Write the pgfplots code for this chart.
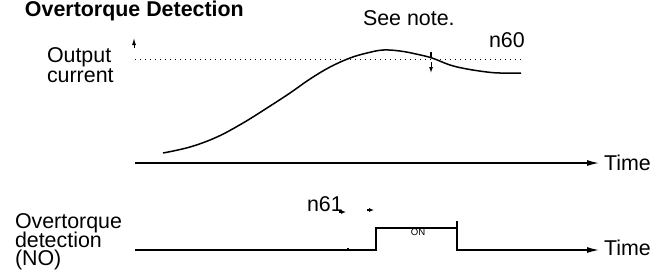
\documentclass[border=0pt]{standalone}
\usepackage{pgfplots}
\pgfplotsset{compat=1.18}
\usepackage{fontspec}
\setmainfont{Liberation Sans}
\usetikzlibrary{arrows.meta}
\newcommand\tightls{\lineskiplimit=-100pt\relax\lineskip=0pt\relax}
\tikzset{lbl/.style={font=\fontsize{10.7}{10}\selectfont, inner sep=0pt, outer sep=0pt}}
\begin{document}
\begin{tikzpicture}
\begin{axis}[
  scale only axis, width=331pt, height=137.5pt,
  xmin=0, xmax=662, ymin=0, ymax=275, y dir=reverse,
  hide axis, clip=false,
]
% bounding frame (invisible)
\addplot[draw=none] coordinates {(0,0) (662,275)};
% output current curve
\addplot[black, line width=0.75pt, smooth, tension=0.6] coordinates {
 (163,153) (190,147) (217,137) (243,123) (267,108) (290,93) (310,79)
 (330,67) (350,58) (367,53) (383,50) (400,51) (416,54) (432,58)
 (450,65) (467,69) (487,72) (500,73) (521,73)
};
% n60 level (dotted)
\addplot[black, dotted, line width=0.5pt] coordinates {(135,59) (521,59)};
% top time axis
\addplot[black, line width=0.7pt, -{Latex[length=6pt,width=3pt]}] coordinates {(135,163) (599,163)};
% small up arrow near axis
\addplot[black, line width=0.5pt, -{Latex[length=3.5pt,width=2pt]}] coordinates {(134,48) (134,38)};
% markers at crossing
\addplot[black, line width=0.6pt] coordinates {(431,52) (431,57)};
\addplot[black, line width=0.5pt, -{Latex[length=3pt,width=2pt]}] coordinates {(431,62) (431,73)};
% overtorque detection signal
\addplot[black, line width=0.7pt, -{Latex[length=6pt,width=3pt]}] coordinates {
 (135,250) (376,250) (376,228) (457,228) (457,250) (599,250)};
\addplot[black, line width=0.8pt] coordinates {(457,221) (457,228)};
\addplot[black, line width=0.6pt] coordinates {(348,248) (348,250)};
% small arrows near n61
\addplot[black, line width=0.6pt, -{Latex[length=2.5pt,width=2pt]}] coordinates {(339,212) (346,212)};
\addplot[black, line width=0.6pt, -{Latex[length=2.5pt,width=2pt]}] coordinates {(367,210) (374,210)};
% texts
\node[lbl, anchor=base west, font=\fontsize{10.7}{10}\selectfont\bfseries] at (axis cs:25,16) {Overtorque Detection};
\node[lbl, anchor=base west] at (axis cs:363,25) {See note.};
\node[lbl, anchor=base west] at (axis cs:489,47) {n60};
\node[lbl, anchor=west, align=left, font=\fontsize{10.7}{10}\selectfont\tightls] at (axis cs:47,65) {Output\\current};
\node[lbl, anchor=west] at (axis cs:604,163) {Time};
\node[lbl, anchor=west] at (axis cs:604,248) {Time};
\node[lbl, anchor=base west] at (axis cs:307,211) {n61};
\node[lbl, font=\fontsize{4.8}{5}\selectfont] at (axis cs:418,232) {ON};
\node[lbl, anchor=west, align=left, font=\fontsize{10.7}{9.2}\selectfont\tightls] at (axis cs:15,242) {Overtorque\\detection\\(NO)};
\end{axis}
\end{tikzpicture}
\end{document}
